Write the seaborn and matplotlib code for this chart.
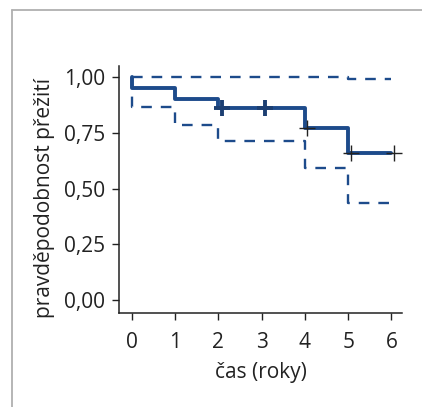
import pandas as pd
import matplotlib.pyplot as plt
import seaborn as sns
from matplotlib.lines import Line2D

# Kaplan-Meier estimate with 95% CI
time_km = [0, 0, 1, 2, 4, 5, 6]
surv_km = [1.00, 0.95, 0.90, 0.86, 0.77, 0.66, 0.66]
time_upper = [0, 5, 6]
surv_upper = [1.00, 0.99, 0.99]
time_lower = [0, 0, 1, 2, 4, 5, 6]
surv_lower = [1.00, 0.865, 0.785, 0.715, 0.59, 0.435, 0.435]

# censored observations
cens_bold_t = [2.08, 3.08]
cens_bold_s = [0.86, 0.86]
cens_thin_t = [4.06, 5.06, 6.05]
cens_thin_s = [0.77, 0.66, 0.66]

x_ticks = [0, 1, 2, 3, 4, 5, 6]
y_ticks = [0.0, 0.25, 0.5, 0.75, 1.0]
y_tick_labels = ['0,00', '0,25', '0,50', '0,75', '1,00']

sns.set_style('ticks')
plt.rcParams['font.family'] = ['Open Sans', 'DejaVu Sans']

navy = '#1d4b8b'
ink = '#222222'

fig = plt.figure(figsize=(4.22, 4.07), dpi=100)
ax = fig.add_axes([0.282, 0.231, 0.671, 0.607])

km = pd.DataFrame({'t': time_km, 's': surv_km})
up = pd.DataFrame({'t': time_upper, 's': surv_upper})
lo = pd.DataFrame({'t': time_lower, 's': surv_lower})

sns.lineplot(data=km, x='t', y='s', ax=ax, estimator=None, sort=False,
             drawstyle='steps-post', color=navy, lw=2.8)
for ci in (up, lo):
    sns.lineplot(data=ci, x='t', y='s', ax=ax, estimator=None, sort=False,
                 drawstyle='steps-post', color=navy, lw=1.7, dashes=False,
                 linestyle=(0, (4.5, 3.8)))

sns.scatterplot(x=cens_bold_t, y=cens_bold_s, ax=ax, marker='+', s=120,
                color='#1c3f72', linewidth=2.8, zorder=5)
sns.scatterplot(x=cens_thin_t, y=cens_thin_s, ax=ax, marker='+', s=120,
                color=ink, linewidth=1.0, zorder=5)

ax.set_xlim(-0.3, 6.25)
ax.set_ylim(-0.058, 1.05)
ax.set_xticks(x_ticks)
ax.set_yticks(y_ticks)
ax.set_yticklabels(y_tick_labels)
ax.tick_params(labelsize=15, length=5, width=1, colors=ink)
ax.tick_params(axis='x', pad=9)
ax.tick_params(axis='y', pad=5)
for side in ('left', 'bottom'):
    ax.spines[side].set_linewidth(1.1)
    ax.spines[side].set_color(ink)
sns.despine(ax=ax)

ax.set_xlabel('čas (roky)', fontsize=15, color=ink, labelpad=6)
ax.set_ylabel('pravděpodobnost přežití', fontsize=15, color=ink)
ax.yaxis.set_label_coords(-0.226, 0.465)

# outer frame of the original figure panel
fig.add_artist(Line2D([12 / 422, 12 / 422], [0, 1 - 9.5 / 407],
                      transform=fig.transFigure, color='#b0b0b0', lw=1.3))
fig.add_artist(Line2D([12 / 422, 1], [1 - 9.5 / 407, 1 - 9.5 / 407],
                      transform=fig.transFigure, color='#b0b0b0', lw=1.3))

fig.savefig('out.png', dpi=100)
